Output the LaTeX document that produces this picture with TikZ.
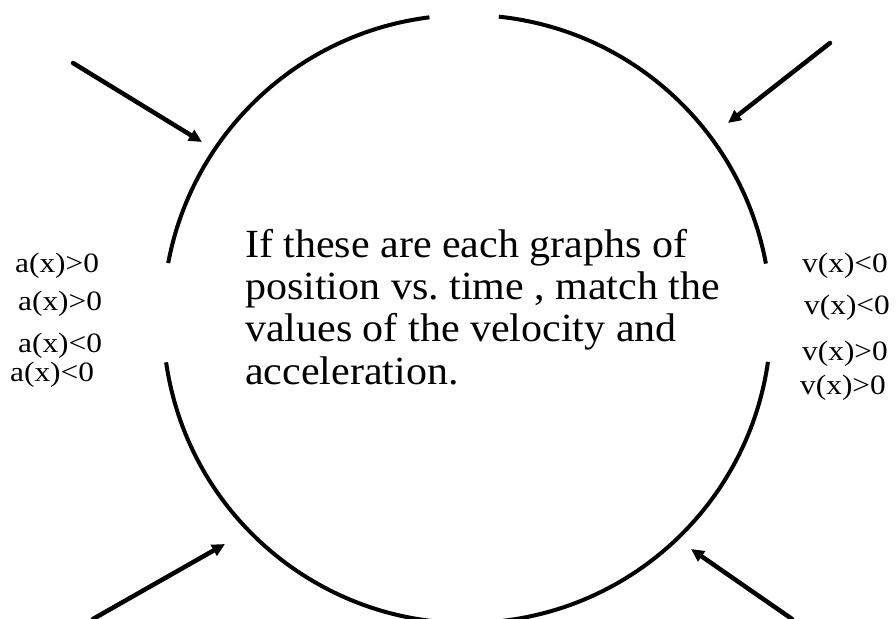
\documentclass[tikz,border=0pt]{standalone}
\usepackage{fontspec}
\newfontfamily\slidefont[FakeStretch=1.05]{Liberation Serif}
\newfontfamily\condfont[FakeStretch=1.12]{Liberation Serif}
\usetikzlibrary{arrows.meta}
\frenchspacing
\tikzset{
  ring/.style={line width=4pt},
  arrow/.style={-{Triangle[length=13pt, width=12pt]}, line width=4.5pt, line cap=round},
  question/.style={font=\slidefont\fontsize{40}{42.3}\selectfont, align=left, anchor=north west, inner sep=0pt},
  cond/.style={font=\condfont\fontsize{28}{30}\selectfont, anchor=base west, inner sep=0pt},
}

\begin{document}
\begin{tikzpicture}[x=1pt, y=1pt]
  \useasboundingbox (0,0) rectangle (896,618);
  \clip (0,0) rectangle (896,618);

  % --- Ring, open at top, left and right ---
  \coordinate (centre) at (467,299);
  \draw[ring] ([shift={(97.1:304)}]centre) arc[start angle=97.1, end angle=169.4, radius=304];
  \draw[ring] ([shift={(188.2:304)}]centre) arc[start angle=188.2, end angle=351.9, radius=304];
  \draw[ring] ([shift={(10.5:304)}]centre) arc[start angle=10.5, end angle=84, radius=304];

  % --- Question ---
  \node[question] (prompt) at (245,389) {If these are each graphs of\\position vs. time , match the\\values of the velocity and\\acceleration.};

  % --- Acceleration values ---
  \node[cond] (acc-1) at (15,345) {a(x)>0};
  \node[cond] (acc-2) at (18,307) {a(x)>0};
  \node[cond] (acc-3) at (18,265) {a(x)<0};
  \node[cond] (acc-4) at (10,236) {a(x)<0};

  % --- Velocity values ---
  \node[cond] (vel-1) at (802,345) {v(x)<0};
  \node[cond] (vel-2) at (804,303) {v(x)<0};
  \node[cond] (vel-3) at (802,257) {v(x)>0};
  \node[cond] (vel-4) at (800,223) {v(x)>0};

  % --- Arrows ---
  \coordinate (tl-tail) at (73,555);
  \coordinate (tl-tip) at (202,476);
  \coordinate (tr-tail) at (830,575);
  \coordinate (tr-tip) at (728,495);
  \coordinate (bl-tail) at (93,-1);
  \coordinate (bl-tip) at (225,74);
  \coordinate (br-tail) at (792,-1);
  \coordinate (br-tip) at (691,69);
  \draw[arrow] (tl-tail) -- (tl-tip);
  \draw[arrow] (tr-tail) -- (tr-tip);
  \draw[arrow] (bl-tail) -- (bl-tip);
  \draw[arrow] (br-tail) -- (br-tip);

\end{tikzpicture}
\end{document}
